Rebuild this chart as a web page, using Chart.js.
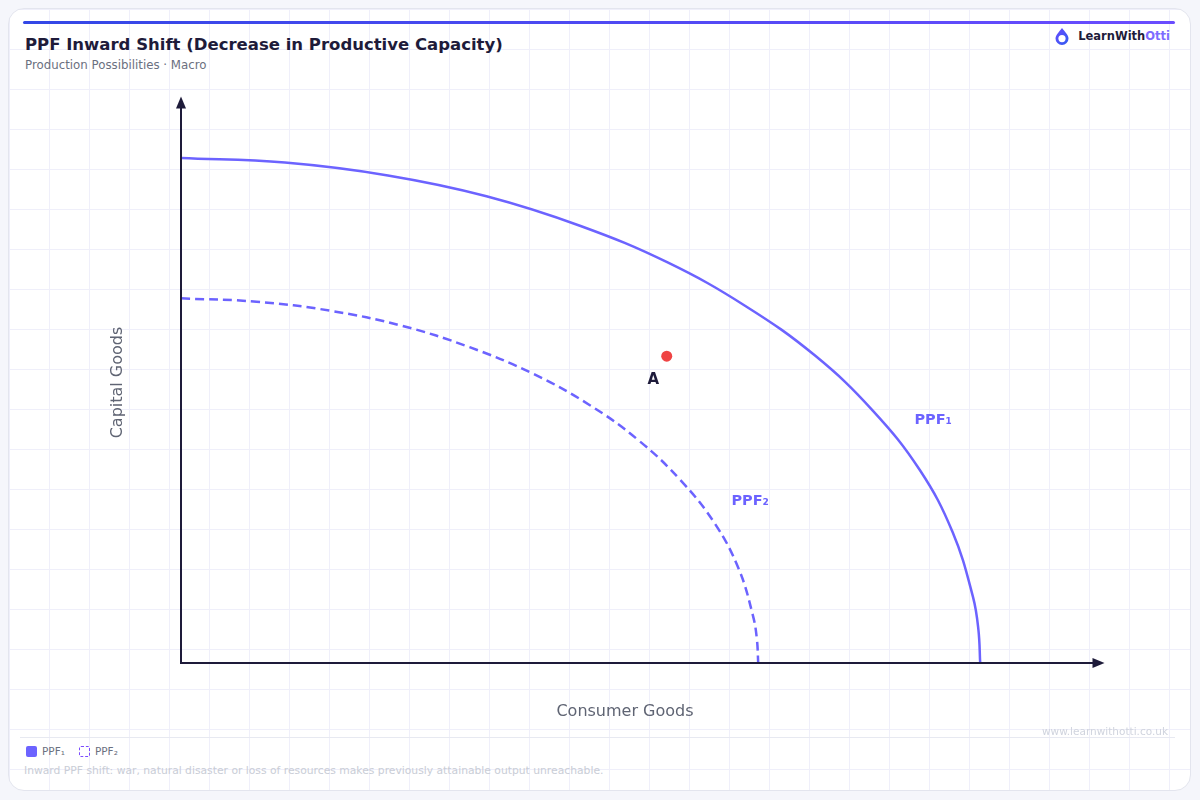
<!DOCTYPE html>
<html>
<head>
<meta charset="utf-8">
<title>PPF Inward Shift</title>
<script src="https://cdn.jsdelivr.net/npm/chart.js@4.4.1/dist/chart.umd.min.js"></script>
<style>
  html, body { margin: 0; padding: 0; }
  body {
    width: 1200px; height: 800px; position: relative; overflow: hidden;
    background: #f5f6fb; font-family: "DejaVu Sans", sans-serif;
  }
  .card {
    position: absolute; left: 8px; top: 8px; width: 1181px; height: 781px;
    border: 1px solid #e3e5ee; border-radius: 16px; background-color: #fff;
    background-image:
      linear-gradient(to right, #efeffa 1px, transparent 1px),
      linear-gradient(to bottom, #efeffa 1px, transparent 1px);
    background-size: 40px 40px;
  }
  .topbar {
    position: absolute; left: 23px; top: 21px; width: 1152px; height: 3px;
    border-radius: 2px; background: linear-gradient(to right, #3347e6, #6a4cff);
  }
  .title {
    position: absolute; left: 25px; top: 35px; font-size: 16.5px; font-weight: bold;
    color: #1e1b3a; white-space: nowrap;
  }
  .subtitle {
    position: absolute; left: 25px; top: 57.5px; font-size: 11.8px; color: #6b7080;
    white-space: nowrap;
  }
  .logo {
    position: absolute; right: 30px; top: 27px; height: 18px; display: flex;
    align-items: center; font-size: 11.5px; font-weight: bold; color: #1e1b3a;
  }
  .logo svg { margin-right: 8px; }
  .logo span { color: #7c6cff; }
  #wrap { position: absolute; left: 24px; top: 80px; width: 1151px; height: 650px; }
  .sep { position: absolute; left: 20px; top: 737px; width: 1155px; height: 1px; background: #e7e9f1; }
  .watermark {
    position: absolute; right: 32px; top: 725px; font-size: 10.5px; color: #d0d4de;
  }
  .legend {
    position: absolute; left: 26px; top: 745px; display: flex; align-items: center;
    font-size: 10.5px; color: #6b7080;
  }
  .legend .item { display: flex; align-items: center; margin-right: 14px; }
  .legend .sw { width: 11px; height: 11px; border-radius: 2px; margin-right: 5px; box-sizing: border-box; }
  .note {
    position: absolute; left: 24px; top: 764px; font-size: 10.75px; color: #c9cdd6;
    white-space: nowrap;
  }
</style>
</head>
<body>
<div class="card"></div>
<div class="topbar"></div>
<div class="title">PPF Inward Shift (Decrease in Productive Capacity)</div>
<div class="subtitle">Production Possibilities · Macro</div>
<div class="logo">
  <svg width="16" height="19" viewBox="0 0 16 19">
    <defs>
      <linearGradient id="lg" x1="0" y1="0" x2="1" y2="1">
        <stop offset="0" stop-color="#6a4cff"/>
        <stop offset="1" stop-color="#2f5bf0"/>
      </linearGradient>
    </defs>
    <path d="M8 1 C5 5 1.5 8 1.5 11.5 A6.5 6.5 0 0 0 14.5 11.5 C14.5 8 11 5 8 1 Z" fill="url(#lg)"/>
    <circle cx="8" cy="11.6" r="3.6" fill="#fff"/>
  </svg>
  LearnWith<span>Otti</span>
</div>
<div id="wrap"><canvas id="ppfChart"></canvas></div>
<div class="sep"></div>
<div class="watermark">www.learnwithotti.co.uk</div>
<div class="legend" id="legend"></div>
<div class="note">Inward PPF shift: war, natural disaster or loss of resources makes previously attainable output unreachable.</div>

<script>
// values (consumer goods on x, capital goods on y)
const seriesNames = ['PPF\u2081', 'PPF\u2082'];

const ppf1X = [0, 11.7, 23.3, 34.4, 45.0, 54.8, 63.6, 71.4, 77.9, 83.2, 86.9, 89.2, 89.8, 90];
const ppf1Y = [90, 89.2, 86.9, 83.2, 77.9, 71.4, 63.6, 54.8, 45.0, 34.4, 23.3, 11.7, 5.9, 0];

const ppf2X = [0, 8.5, 16.8, 24.9, 32.5, 39.6, 46.0, 51.6, 56.3, 60.1, 62.8, 64.4, 64.85, 65];
const ppf2Y = [65, 64.4, 62.8, 60.1, 56.3, 51.6, 46.0, 39.6, 32.5, 24.9, 16.8, 8.5, 4.3, 0];

const pointA = { x: 54.7, y: 54.7 };

// text annotations, anchored in data units
const annotations = [
    { text: 'PPF\u2081', x: 84.7, y: 43.3, color: '#6c63ff', size: 14.5 },
    { text: 'PPF\u2082', x: 64.1, y: 28.8, color: '#6c63ff', size: 14.5 },
    { text: 'A', x: 53.2, y: 50.4, color: '#1e1b3a', size: 15 }
];

const lineColor = '#6c63ff';
const axisColor = '#1e1b3a';

function toPoints(xs, ys) {
    return xs.map((x, i) => ({ x: x, y: ys[i] }));
}

// axes with arrow heads, drawn from the scales
const arrowAxes = {
    id: 'arrowAxes',
    afterDatasetsDraw(chart) {
        const ctx = chart.ctx;
        const xs = chart.scales.x, ys = chart.scales.y;
        const x0 = xs.getPixelForValue(0), y0 = ys.getPixelForValue(0);
        const xTip = xs.getPixelForValue(104), yTip = ys.getPixelForValue(101);
        ctx.save();
        ctx.strokeStyle = axisColor;
        ctx.fillStyle = axisColor;
        ctx.lineWidth = 2;
        ctx.beginPath();
        ctx.moveTo(x0, y0 + 1);
        ctx.lineTo(x0, yTip + 8);
        ctx.moveTo(x0 - 1, y0);
        ctx.lineTo(xTip - 8, y0);
        ctx.stroke();
        // y arrow
        ctx.beginPath();
        ctx.moveTo(x0, yTip);
        ctx.lineTo(x0 - 5, yTip + 12);
        ctx.lineTo(x0 + 5, yTip + 12);
        ctx.closePath();
        ctx.fill();
        // x arrow
        ctx.beginPath();
        ctx.moveTo(xTip, y0);
        ctx.lineTo(xTip - 12, y0 - 5);
        ctx.lineTo(xTip - 12, y0 + 5);
        ctx.closePath();
        ctx.fill();
        ctx.restore();
    }
};

const curveLabels = {
    id: 'curveLabels',
    afterDraw(chart) {
        const ctx = chart.ctx;
        const xs = chart.scales.x, ys = chart.scales.y;
        ctx.save();
        ctx.textAlign = 'center';
        ctx.textBaseline = 'middle';
        annotations.forEach(a => {
            ctx.font = 'bold ' + a.size + 'px "DejaVu Sans", sans-serif';
            ctx.fillStyle = a.color;
            ctx.fillText(a.text, xs.getPixelForValue(a.x), ys.getPixelForValue(a.y));
        });
        ctx.restore();
    }
};

Chart.defaults.font.family = '"DejaVu Sans", sans-serif';

const ctx = document.getElementById('ppfChart').getContext('2d');
const chart = new Chart(ctx, {
    type: 'line',
    data: {
        datasets: [
            {
                label: seriesNames[0],
                data: toPoints(ppf1X, ppf1Y),
                borderColor: lineColor,
                borderWidth: 2.5,
                pointRadius: 0,
                fill: false,
                tension: 0.4
            },
            {
                label: seriesNames[1],
                data: toPoints(ppf2X, ppf2Y),
                borderColor: lineColor,
                borderWidth: 2.5,
                borderDash: [9, 5],
                pointRadius: 0,
                fill: false,
                tension: 0.4
            },
            {
                type: 'scatter',
                label: 'A',
                data: [pointA],
                backgroundColor: '#ef4444',
                borderWidth: 0,
                pointRadius: 5.5
            }
        ]
    },
    options: {
        responsive: true,
        maintainAspectRatio: false,
        animation: false,
        layout: {
            padding: { left: 84.4, right: 106, top: 22, bottom: 8.4 }
        },
        scales: {
            x: {
                type: 'linear',
                min: 0,
                max: 100,
                grid: { display: false, drawTicks: false },
                border: { display: false },
                ticks: { display: false },
                title: {
                    display: true,
                    text: 'Consumer Goods',
                    color: '#5f6473',
                    font: { size: 16 },
                    padding: { top: 39.4, bottom: 0 }
                }
            },
            y: {
                type: 'linear',
                min: 0,
                max: 100,
                grid: { display: false, drawTicks: false },
                border: { display: false },
                ticks: { display: false },
                title: {
                    display: true,
                    text: 'Capital Goods',
                    color: '#5f6473',
                    font: { size: 16 },
                    padding: { top: 0, bottom: 53.4 }
                }
            }
        },
        plugins: {
            legend: { display: false },
            tooltip: { enabled: false }
        }
    },
    plugins: [arrowAxes, curveLabels]
});

// html legend from the two curves
const legendEl = document.getElementById('legend');
chart.data.datasets.slice(0, 2).forEach(ds => {
    const item = document.createElement('div');
    item.className = 'item';
    const sw = document.createElement('div');
    sw.className = 'sw';
    if (ds.borderDash) {
        sw.style.border = '1.5px dashed #7c4dff';
    } else {
        sw.style.background = ds.borderColor;
    }
    item.appendChild(sw);
    item.appendChild(document.createTextNode(ds.label));
    legendEl.appendChild(item);
});
</script>
</body>
</html>
